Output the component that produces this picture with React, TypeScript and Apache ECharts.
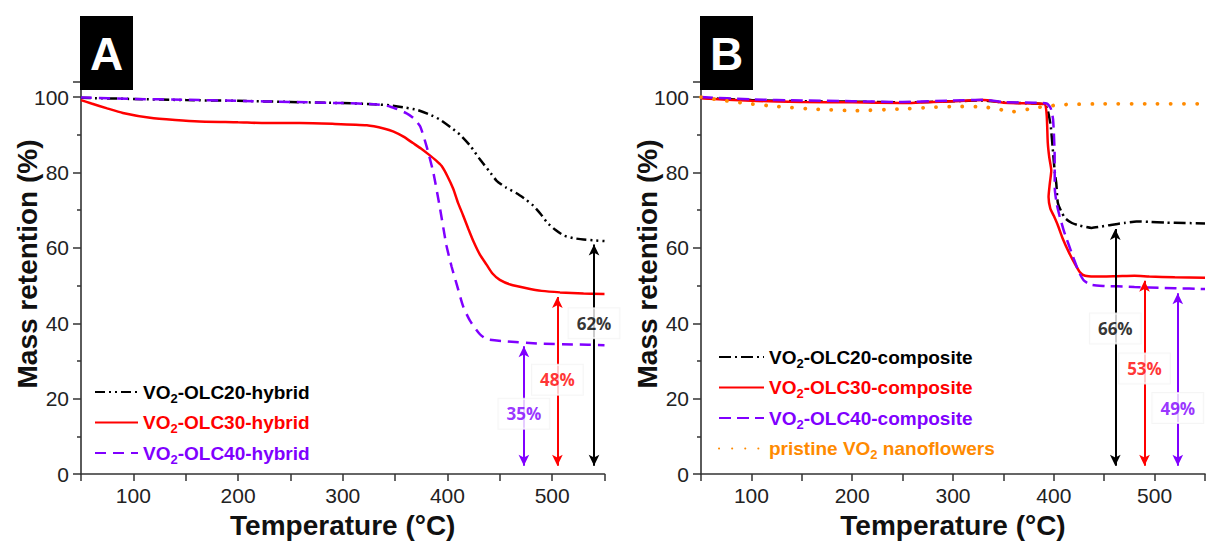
import { useEffect, useRef } from 'react';
import * as echarts from 'echarts';

// ---------- Panel A (hybrid) : [temperature °C, mass retention %] ----------
const A_OLC20_HYBRID: number[][] = [
  [50, 99.8], [100, 99.5], [150, 99.2], [200, 99.0], [250, 98.7], [300, 98.4], [330, 98.1], [345, 97.8],
  [360, 97.2], [371, 96.6], [382, 95.5], [393, 94.0], [403, 92.0], [412, 90.0], [422, 87.0], [431, 83.5],
  [440, 80.3], [447, 77.8], [456, 76.0], [466, 74.5], [475, 72.8], [482, 71.2], [489, 69.0], [495, 66.8],
  [503, 64.8], [511, 63.3], [520, 62.6], [530, 62.2], [540, 62.0], [550, 61.8],
];
const A_OLC30_HYBRID: number[][] = [
  [50, 99.2], [60, 98.3], [75, 97.0], [90, 95.8], [116, 94.5], [140, 93.9], [163, 93.5], [200, 93.3],
  [227, 93.1], [259, 93.1], [290, 92.9], [323, 92.5], [340, 91.6], [348, 90.9], [358, 89.5], [367, 87.8],
  [375, 86.3], [382, 84.8], [389, 83.2], [394.5, 81.7], [400, 79.0], [405.6, 75.6], [410, 72.0], [415, 68.6],
  [420, 65.0], [425, 61.6], [431, 58.2], [437.5, 55.5], [443, 53.2], [450, 51.5], [460, 50.3], [475.7, 49.3],
  [490, 48.6], [507.5, 48.2], [530, 47.9], [550, 47.8],
];
const A_OLC40_HYBRID: number[][] = [
  [50, 99.9], [100, 99.5], [150, 99.3], [200, 99.0], [250, 98.7], [300, 98.4], [330, 98.1], [345, 97.5],
  [361, 95.7], [368, 94.3], [374, 92.2], [380, 87.0], [386.5, 80.0], [393, 70.3], [399, 60.7], [404, 55.0],
  [409, 50.2], [415, 44.5], [421.5, 40.7], [431, 37.1], [437.5, 35.8], [456.6, 35.2], [488, 34.6], [520, 34.4],
  [550, 34.2],
];

// ---------- Panel B (composite) ----------
const B_OLC20_COMPOSITE: number[][] = [
  [50, 99.8], [100, 99.2], [150, 98.9], [200, 98.8], [250, 98.6], [300, 98.9], [330, 99.1], [350, 98.6],
  [380, 98.3], [391, 98.0], [394, 96.5], [397, 92.2], [399.3, 85.2], [401, 80.0], [402.5, 77.0], [404, 72.0],
  [408, 69.3], [412, 67.7], [418, 66.6], [424.7, 66.0], [437.5, 65.3], [446, 65.6], [456.6, 66.1], [470, 66.6],
  [482, 67.0], [495, 66.9], [510, 66.7], [530, 66.6], [550, 66.5],
];
const B_OLC30_COMPOSITE: number[][] = [
  [50, 99.7], [100, 99.0], [150, 98.7], [200, 98.6], [250, 98.4], [300, 98.9], [330, 99.2], [350, 98.5],
  [380, 98.3], [391, 98.1], [393, 95.0], [394, 88.0], [395.5, 84.0], [397.5, 80.5], [396, 77.0], [394.8, 73.5],
  [396.5, 70.5], [400, 68.5], [404, 66.0], [408.8, 62.5], [415, 58.8], [421.5, 55.5], [426, 53.5], [431, 52.6],
  [440, 52.4], [462.6, 52.5], [480, 52.6], [494.7, 52.4], [520, 52.2], [550, 52.1],
];
const B_OLC40_COMPOSITE: number[][] = [
  [50, 100], [100, 99.4], [150, 99.1], [200, 98.9], [250, 98.7], [300, 99.1], [330, 99.3], [350, 98.7],
  [380, 98.5], [393, 98.3], [397, 97.0], [399.3, 94.0], [400.8, 85.2], [401, 75.6], [403, 71.5], [405.6, 68.6],
  [410, 64.5], [415, 60.7], [420, 57.0], [424.7, 53.7], [430, 51.3], [437.5, 50.2], [450, 49.9], [463, 49.8],
  [480, 49.6], [494.7, 49.5], [520, 49.3], [550, 49.1],
];
const B_PRISTINE_VO2: number[][] = [
  [50, 100], [75, 99.0], [100, 98.2], [125, 97.5], [163, 96.8], [202, 96.4], [246, 96.8], [280, 97.3],
  [304, 97.5], [330, 97.4], [345, 96.8], [358, 96.1], [375, 96.8], [390, 97.5], [405, 97.9], [418, 98.1],
  [450, 98.2], [500, 98.2], [550, 98.2],
];

// ---------- Retention arrows ----------
const ARROW_X_A = [473, 505, 540];
const ARROW_TOP_A = [33.9, 47.0, 60.9];
const ARROW_LABEL_A = ['35%', '48%', '62%'];
const ARROW_LABEL_Y_A = [16, 25, 40];

const ARROW_X_B = [461, 490, 523];
const ARROW_TOP_B = [65.0, 51.3, 48.0];
const ARROW_LABEL_B = ['66%', '53%', '49%'];
const ARROW_LABEL_Y_B = [38.6, 28, 17.5];
const ARROW_BOTTOM = 2.2;

// ---------- Axis ticks ----------
const X_MIN = 50, X_MAX = 550, X_INTERVAL = 50;
const Y_MIN = 0, Y_MAX = 104, Y_INTERVAL = 20;

// ---------- styles ----------
const BLACK = '#000000';
const RED = '#ff0000';
const PURPLE = '#8000ff';
const ORANGE = '#ff8a00';
const AXIS = '#333333';
const FONT = '"Liberation Sans", Arial, sans-serif';
const LABEL_FONT = '"Open Sans", Lato, sans-serif';

function line(name: string, data: number[][], axis: number, color: string, dash: any, extra: any = {}) {
  return {
    type: 'line', name, data, xAxisIndex: axis, yAxisIndex: axis,
    symbol: 'none', showSymbol: false, smooth: 0.2, z: 3,
    lineStyle: { color, width: 2.5, type: dash, ...(extra.lineStyle || {}) },
    itemStyle: { color },
  };
}

function arrows(axis: number, xs: number[], tops: number[], colors: string[], labels: string[], labelYs: number[]) {
  return {
    type: 'scatter', name: 'arrows' + axis, xAxisIndex: axis, yAxisIndex: axis,
    symbolSize: 0, z: 10, silent: true,
    data: xs.map((x, i) => ({
      value: [x, labelYs[i]],
      label: {
        show: true, position: 'inside', formatter: labels[i], color: colors[i],
        fontFamily: LABEL_FONT, fontWeight: 'bold', fontSize: 17,
        backgroundColor: '#ffffff', borderColor: '#f3f3f3', borderWidth: 1, padding: [7, 8, 6, 8],
      },
    })),
    markLine: {
      silent: true, z: 5, symbol: ['arrow', 'arrow'], symbolSize: [8, 11],
      label: { show: false },
      data: xs.map((x, i) => [
        { coord: [x, tops[i]], lineStyle: { color: colors[i], width: 2, type: 'solid' } },
        { coord: [x, ARROW_BOTTOM] },
      ]),
    },
  };
}

function xAxis(grid: number) {
  return {
    type: 'value', gridIndex: grid, min: X_MIN, max: X_MAX, interval: X_INTERVAL,
    name: 'Temperature (°C)', nameLocation: 'middle', nameGap: 34,
    nameTextStyle: { fontFamily: FONT, fontWeight: 'bold', fontSize: 28, color: '#111' },
    axisLine: { show: true, onZero: false, lineStyle: { color: AXIS, width: 1.6 } },
    axisTick: { show: true, length: 7, lineStyle: { color: AXIS, width: 1.5 } },
    splitLine: { show: false },
    axisLabel: {
      fontFamily: FONT, fontSize: 21, color: '#222', margin: 11,
      formatter: (v: number) => (v % 100 === 0 ? String(v) : ''),
    },
  };
}

function yAxis(grid: number) {
  return {
    type: 'value', gridIndex: grid, min: Y_MIN, max: Y_MAX, interval: Y_INTERVAL,
    axisLine: { show: true, onZero: false, lineStyle: { color: AXIS, width: 1.6 } },
    axisTick: { show: true, length: 8, lineStyle: { color: AXIS, width: 1.5 } },
    minorTick: { show: true, splitNumber: 2, length: 4, lineStyle: { color: AXIS, width: 1.5 } },
    splitLine: { show: false },
    axisLabel: {
      fontFamily: FONT, fontSize: 21, color: '#222', margin: 12,
      formatter: (v: number) => (v % 20 === 0 && v <= 100 ? String(v) : ''),
    },
  };
}

function legendItem(name: string, color: string) {
  return {
    name,
    textStyle: {
      color,
      rich: { s: { color, fontFamily: FONT, fontWeight: 'bold', fontSize: 13, padding: [12, 0, 0, 0] } },
    },
  };
}

function legend(items: any[], left: number, top: number, itemWidth: number) {
  return {
    data: items, orient: 'vertical', left, top, itemWidth, itemHeight: 12, itemGap: 6, padding: 0,
    selectedMode: false,
    itemStyle: { opacity: 0 },
    textStyle: { fontFamily: FONT, fontWeight: 'bold', fontSize: 19, lineHeight: 24 },
    formatter: (n: string) => n.replace('VO2', 'VO{s|2}'),
  };
}

function panelTag(letter: string, x: number) {
  return [
    { type: 'rect', z: 100, shape: { x, y: 16, width: 53, height: 74 }, style: { fill: '#000' } },
    {
      type: 'text', z: 101, x: x + 26.5, y: 54,
      style: { text: letter, fill: '#fff', font: `bold 46px ${FONT}`, align: 'center', verticalAlign: 'middle' },
    },
  ];
}

function yTitle(x: number) {
  return {
    type: 'text', z: 50, x, y: 264, rotation: Math.PI / 2,
    style: {
      text: 'Mass retention (%)', fill: '#111', font: `bold 28px ${FONT}`, align: 'center', verticalAlign: 'middle',
    },
  };
}

export default function App() {
  const ref = useRef<HTMLDivElement>(null);
  useEffect(() => {
    const chart = echarts.init(ref.current!, null, { renderer: 'svg' });
    const option: any = {
      animation: false,
      backgroundColor: '#ffffff',
      grid: [
        { left: 81, top: 82, width: 523.5, height: 396.5 },
        { left: 701, top: 82, width: 523.5, height: 396.5 },
      ],
      xAxis: [xAxis(0), xAxis(1)],
      yAxis: [yAxis(0), yAxis(1)],
      legend: [
        legend([
          legendItem('VO2-OLC20-hybrid', BLACK),
          legendItem('VO2-OLC30-hybrid', RED),
          legendItem('VO2-OLC40-hybrid', PURPLE),
        ], 94, 380, 43),
        legend([
          legendItem('VO2-OLC20-composite', BLACK),
          legendItem('VO2-OLC30-composite', RED),
          legendItem('VO2-OLC40-composite', PURPLE),
          legendItem('pristine VO2 nanoflowers', ORANGE),
        ], 718, 345, 45),
      ],
      graphic: [...panelTag('A', 80), ...panelTag('B', 700), yTitle(27), yTitle(647)],
      series: [
        line('VO2-OLC20-hybrid', A_OLC20_HYBRID, 0, BLACK, [10, 4, 2, 4, 2, 4]),
        line('VO2-OLC30-hybrid', A_OLC30_HYBRID, 0, RED, 'solid'),
        line('VO2-OLC40-hybrid', A_OLC40_HYBRID, 0, PURPLE, [11, 7]),
        line('VO2-OLC20-composite', B_OLC20_COMPOSITE, 1, BLACK, [12, 4, 2, 4]),
        line('VO2-OLC30-composite', B_OLC30_COMPOSITE, 1, RED, 'solid'),
        line('VO2-OLC40-composite', B_OLC40_COMPOSITE, 1, PURPLE, [12, 6]),
        line('pristine VO2 nanoflowers', B_PRISTINE_VO2, 1, ORANGE, [0.1, 13], { lineStyle: { width: 3.8, cap: 'round' } }),
        arrows(0, ARROW_X_A, ARROW_TOP_A, [PURPLE, RED, BLACK], ARROW_LABEL_A, ARROW_LABEL_Y_A),
        arrows(1, ARROW_X_B, ARROW_TOP_B, [BLACK, RED, PURPLE], ARROW_LABEL_B, ARROW_LABEL_Y_B),
      ],
    };
    chart.setOption(option);
    return () => chart.dispose();
  }, []);
  return <div ref={ref} style={{ position: 'absolute', left: 0, top: 0, width: 1208, height: 544 }} />;
}
